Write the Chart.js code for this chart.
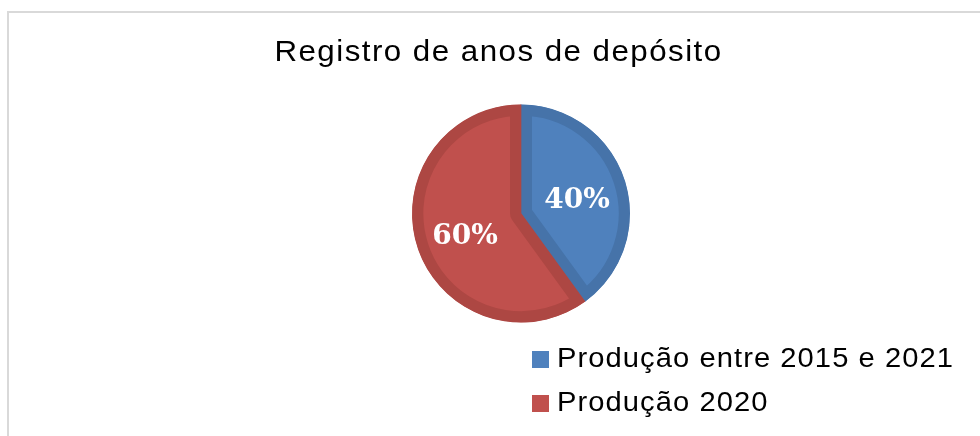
<!DOCTYPE html>
<html>
<head>
<meta charset="utf-8">
<script src="https://cdn.jsdelivr.net/npm/chart.js@4"></script>
<style>
    body { margin: 0; background: #fff; overflow: hidden; }
    #wrap { position: relative; width: 980px; height: 436px; }
    #frame {
        position: absolute; left: 7px; top: 11px; width: 1000px; height: 500px;
        border-top: 2px solid #d9d9d9; border-left: 2px solid #d9d9d9;
    }
    #titre {
        position: absolute; left: 0; top: 33px; width: 998px; text-align: center;
        font-family: "Liberation Sans", Arial, sans-serif; font-size: 29px;
        line-height: 36px; color: #000;
    }
    #titre span { display: inline-block; transform: scaleX(1.08); letter-spacing: 1.35px; }
    #legende {
        position: absolute; left: 532px; top: 336px;
        font-family: "Liberation Sans", Arial, sans-serif; font-size: 27.5px; color: #000;
    }
    #legende div { height: 43.5px; line-height: 43.5px; white-space: nowrap; }
    #legende span.box {
        display: inline-block; width: 17px; height: 17px; margin-right: 8px;
        vertical-align: -1px;
    }
    #legende span.txt {
        display: inline-block; transform: scaleX(1.06); transform-origin: left center;
        letter-spacing: 1px;
    }
    canvas { position: absolute; left: 0; top: 0; }
</style>
</head>
<body>
<div id="wrap">
    <div id="frame"></div>
    <canvas id="camembert" width="980" height="436"></canvas>
    <div id="titre"><span></span></div>
    <div id="legende"></div>
</div>
<script>
// Données du graphique
const titre = "Registro de anos de depósito";
const categories = ["Produção entre 2015 e 2021", "Produção 2020"];
const valeurs = [40, 60];
const couleurs = ["#4f81bd", "#c0504d"];
const bordures = ["#4673a9", "#ad4743"];

document.querySelector("#titre span").textContent = titre;

// Légende en HTML
const leg = document.getElementById("legende");
categories.forEach((c, i) => {
    const row = document.createElement("div");
    const box = document.createElement("span");
    box.className = "box";
    box.style.background = couleurs[i];
    const txt = document.createElement("span");
    txt.className = "txt";
    txt.textContent = c;
    row.appendChild(box);
    row.appendChild(txt);
    leg.appendChild(row);
});

// Étiquettes de pourcentage sur les parts
const etiquettes = {
    id: "etiquettes",
    afterDatasetsDraw(chart) {
        const ctx = chart.ctx;
        const meta = chart.getDatasetMeta(0);
        const total = valeurs.reduce((a, b) => a + b, 0);
        ctx.save();
        ctx.fillStyle = "#fff";
        ctx.font = "bold 28px 'DejaVu Serif', serif";
        ctx.textAlign = "center";
        ctx.textBaseline = "middle";
        meta.data.forEach((arc, i) => {
            const p = arc.getProps(["x", "y", "startAngle", "endAngle", "outerRadius"], true);
            const mid = (p.startAngle + p.endAngle) / 2;
            const r = p.outerRadius * 0.54;
            const txt = Math.round(valeurs[i] / total * 100) + "%";
            ctx.fillText(txt, p.x + Math.cos(mid) * r, p.y + Math.sin(mid) * r + 5);
        });
        ctx.restore();
    }
};

new Chart(document.getElementById("camembert"), {
    type: "pie",
    data: {
        labels: categories,
        datasets: [{
            data: valeurs,
            backgroundColor: couleurs,
            borderColor: bordures,
            borderWidth: 11,
            borderAlign: "inner",
            hoverBorderWidth: 0
        }]
    },
    options: {
        responsive: false,
        animation: false,
        layout: {
            padding: { top: 104, bottom: 113, left: 412, right: 350 }
        },
        plugins: {
            legend: { display: false },
            tooltip: { enabled: false }
        }
    },
    plugins: [etiquettes]
});
</script>
</body>
</html>
